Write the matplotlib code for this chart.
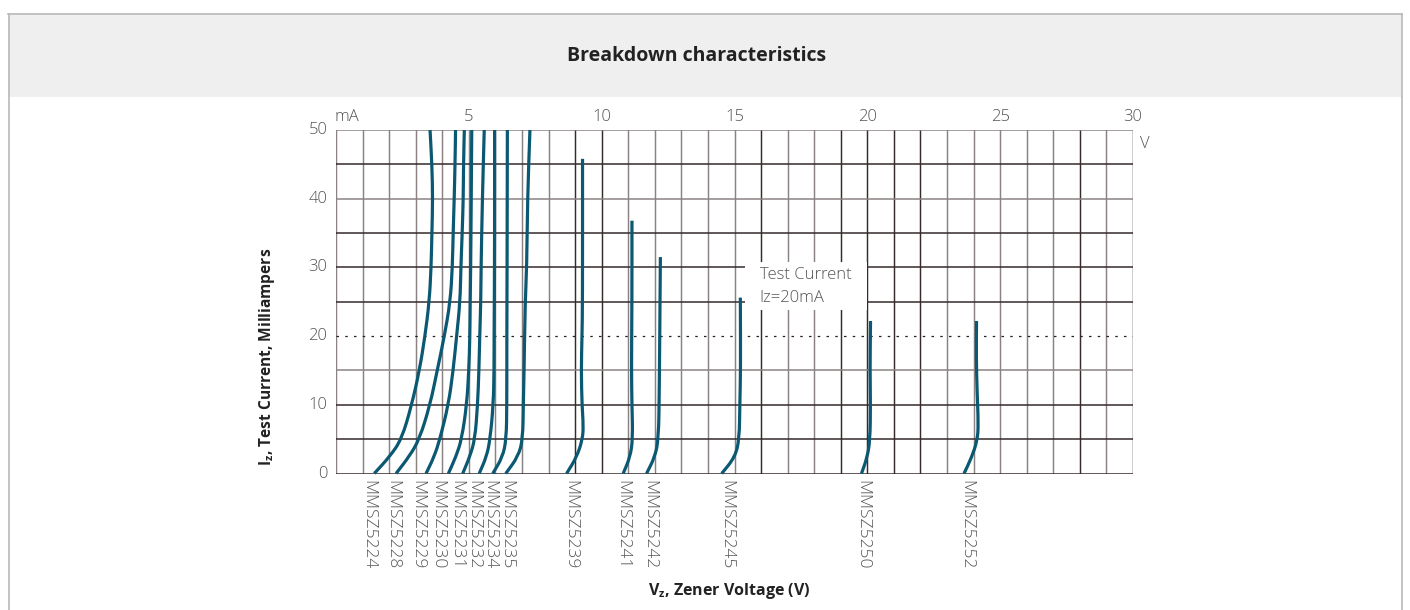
import matplotlib
matplotlib.use("Agg")
import matplotlib.pyplot as plt
from matplotlib.patches import Rectangle, PathPatch
from matplotlib.lines import Line2D
from matplotlib.path import Path

plt.rcParams['font.family'] = ['Open Sans', 'DejaVu Sans']
plt.rcParams['mathtext.default'] = 'regular'

# ---- data (voltage V, current mA) ----
names = ["MMSZ5224", "MMSZ5228", "MMSZ5229", "MMSZ5230", "MMSZ5231", "MMSZ5232",
         "MMSZ5234", "MMSZ5235", "MMSZ5239", "MMSZ5241", "MMSZ5242", "MMSZ5245",
         "MMSZ5250", "MMSZ5252"]

v5224 = [1.44, 2.03, 2.47, 2.85, 3.14, 3.35, 3.51, 3.58, 3.61, 3.64, 3.61, 3.54]
i5224 = [0, 2.5, 5, 10, 15, 20, 25, 30, 35, 40, 45, 50]
v5228 = [2.26, 2.76, 3.14, 3.54, 3.81, 4.08, 4.30, 4.38, 4.41, 4.45, 4.48, 4.50]
i5228 = [0, 2.5, 5, 10, 15, 20, 25, 30, 35, 40, 45, 50]
v5229 = [3.39, 3.70, 3.91, 4.23, 4.41, 4.54, 4.67, 4.70, 4.75, 4.79, 4.80, 4.83]
i5229 = [0, 2.5, 5, 10, 15, 20, 25, 30, 35, 40, 45, 50]
v5230 = [4.23, 4.52, 4.73, 4.92, 5.00, 5.04, 5.05, 5.07, 5.09, 5.11]
i5230 = [0, 2.5, 5, 10, 15, 20, 25, 30, 40, 50]
v5231 = [4.77, 5.04, 5.23, 5.33, 5.38, 5.41, 5.45, 5.46, 5.51, 5.58]
i5231 = [0, 2.5, 5, 10, 15, 20, 25, 30, 40, 50]
v5232 = [5.39, 5.67, 5.80, 5.92, 5.95, 5.95, 5.96, 5.97, 5.97]
i5232 = [0, 2.5, 5, 10, 15, 20, 25, 35, 50]
v5234 = [5.90, 6.27, 6.41, 6.43, 6.43, 6.44, 6.45]
i5234 = [0, 2.4, 5, 10, 20, 30, 50]
v5235 = [6.39, 6.86, 7.03, 7.05, 7.08, 7.12, 7.18, 7.21, 7.30]
i5235 = [0, 2.5, 5, 10, 15, 25, 30, 40, 50]
v5239 = [8.68, 9.06, 9.28, 9.31, 9.26, 9.23, 9.26, 9.28, 9.28]
i5239 = [0, 2.4, 5, 7, 10, 15, 20, 25, 45.8]
v5241 = [10.81, 11.07, 11.17, 11.14, 11.12, 11.14, 11.14]
i5241 = [0, 2.4, 5, 10, 15, 25, 36.8]
v5242 = [11.69, 12.00, 12.14, 12.17, 12.21]
i5242 = [0, 2.4, 5, 12, 31.5]
v5245 = [14.52, 15.02, 15.18, 15.20, 15.23, 15.22]
i5245 = [0, 2.4, 5, 10, 15, 25.6]
v5250 = [19.78, 19.99, 20.10, 20.12, 20.10, 20.12]
i5250 = [0, 2.3, 4.8, 10, 15, 22.2]
v5252 = [23.64, 23.92, 24.14, 24.18, 24.13, 24.10, 24.11]
i5252 = [0, 2.3, 4.8, 7.2, 12, 17, 22.2]

volts = [v5224, v5228, v5229, v5230, v5231, v5232, v5234, v5235,
         v5239, v5241, v5242, v5245, v5250, v5252]
currents = [i5224, i5228, i5229, i5230, i5231, i5232, i5234, i5235,
            i5239, i5241, i5242, i5245, i5250, i5252]

x_ticks = [5, 10, 15, 20, 25, 30]
y_ticks = [0, 10, 20, 30, 40, 50]
test_current = 20

# label anchor voltages under the axis
label_x = [1.22, 2.13, 3.06, 3.81, 4.54, 5.15, 5.76, 6.40, 8.81, 10.79, 11.79,
           14.70, 19.82, 23.74]

# ---- figure ----
W, H = 1410, 610
fig = plt.figure(figsize=(W / 100, H / 100), dpi=100)
fig.patch.set_facecolor('white')

def fx(px):
    return px / W

def fy(py):
    return 1 - py / H

# card + header band
fig.patches.append(Rectangle((fx(8), fy(97)), fx(1402) - fx(8), fy(13) - fy(97),
                             transform=fig.transFigure, facecolor='#efefef',
                             edgecolor='none', zorder=0))
fig.lines.append(Line2D([fx(8), fx(1402)], [fy(13.5), fy(13.5)], transform=fig.transFigure,
                        color='#b9b9b9', lw=1.2))
fig.lines.append(Line2D([fx(8.5), fx(8.5)], [fy(13.5), 0], transform=fig.transFigure,
                        color='#b9b9b9', lw=1.2))
fig.lines.append(Line2D([fx(1401.5), fx(1401.5)], [fy(13.5), 0], transform=fig.transFigure,
                        color='#b9b9b9', lw=1.2))
fig.text(fx(697), fy(56), "Breakdown characteristics", ha='center', va='center',
         fontsize=14, fontweight='bold', color='#222222')

ax = fig.add_axes([fx(336), fy(473.5), fx(1133) - fx(336), fy(130) - fy(473.5)])
ax.set_xlim(0, 30)
ax.set_ylim(0, 50)
for s in ax.spines.values():
    s.set_visible(False)

dark = '#352b2b'
gray = '#8a8282'
dark_v = {9, 10, 16, 19, 20, 21, 22, 28, 30}
for v in range(0, 31):
    ax.axvline(v, color=dark if v in dark_v else gray, lw=1.05, zorder=1)
gray_h = {15, 40, 50}
for h in range(0, 51, 5):
    if h == test_current:
        continue
    ax.axhline(h, color=gray if h in gray_h else dark, lw=1.1, zorder=1)
ax.axhline(test_current, color='#222222', lw=0.9, ls=(0, (2, 5)), zorder=1)

# white annotation box
ax.add_patch(Rectangle((15.4, 23.8), 4.6, 7.0, facecolor='white', edgecolor='none', zorder=2))
ax.text(15.95, 28.9, "Test Current", ha='left', va='center', fontsize=12,
        fontweight='light', color='#555555', zorder=3)
ax.text(15.95, 25.6, "Iz=20mA", ha='left', va='center', fontsize=12,
        fontweight='light', color='#555555', zorder=3)

curve_color = '#0b5872'

def smooth_path(xs, ys):
    pts = list(zip(xs, ys))
    verts = [pts[0]]
    codes = [Path.MOVETO]
    mids = [((pts[k][0] + pts[k + 1][0]) / 2, (pts[k][1] + pts[k + 1][1]) / 2)
            for k in range(len(pts) - 1)]
    verts.append(mids[0])
    codes.append(Path.LINETO)
    for k in range(1, len(pts) - 1):
        verts += [pts[k], mids[k]]
        codes += [Path.CURVE3, Path.CURVE3]
    verts.append(pts[-1])
    codes.append(Path.LINETO)
    return Path(verts, codes)

for v, i in zip(volts, currents):
    ax.add_patch(PathPatch(smooth_path(v, i), facecolor='none', edgecolor=curve_color,
                           lw=2.3, capstyle='butt', joinstyle='round', zorder=4,
                           clip_on=False))

# ticks
ax.set_xticks([])
ax.set_yticks([])
tk = dict(fontsize=12, fontweight='light', color='#555555')
for t in y_ticks:
    ax.text(-0.33, t, str(t), ha='right', va='center', **tk)
for t in x_ticks:
    ax.text(t, 51.95, str(t), ha='center', va='center', **tk)
ax.text(0.42, 51.95, "mA", ha='center', va='center', **tk)
ax.text(30.25, 47.9, "V", ha='left', va='center', **tk)

for name, lx in zip(names, label_x):
    ax.text(lx, -0.9, name, rotation=-90, ha='center', va='top', fontsize=12.5,
            fontweight='light', color='#555555')

fig.text(fx(267), fy(357), r"I$_{z}$, Test Current, Milliampers", rotation=90,
         ha='center', va='center', fontsize=11.2, fontweight='bold', color='#222222')
fig.text(fx(729), fy(591), r"V$_{z}$, Zener Voltage (V)", ha='center', va='center',
         fontsize=11.5, fontweight='bold', color='#222222')

fig.savefig("out.png", dpi=100, facecolor='white')
